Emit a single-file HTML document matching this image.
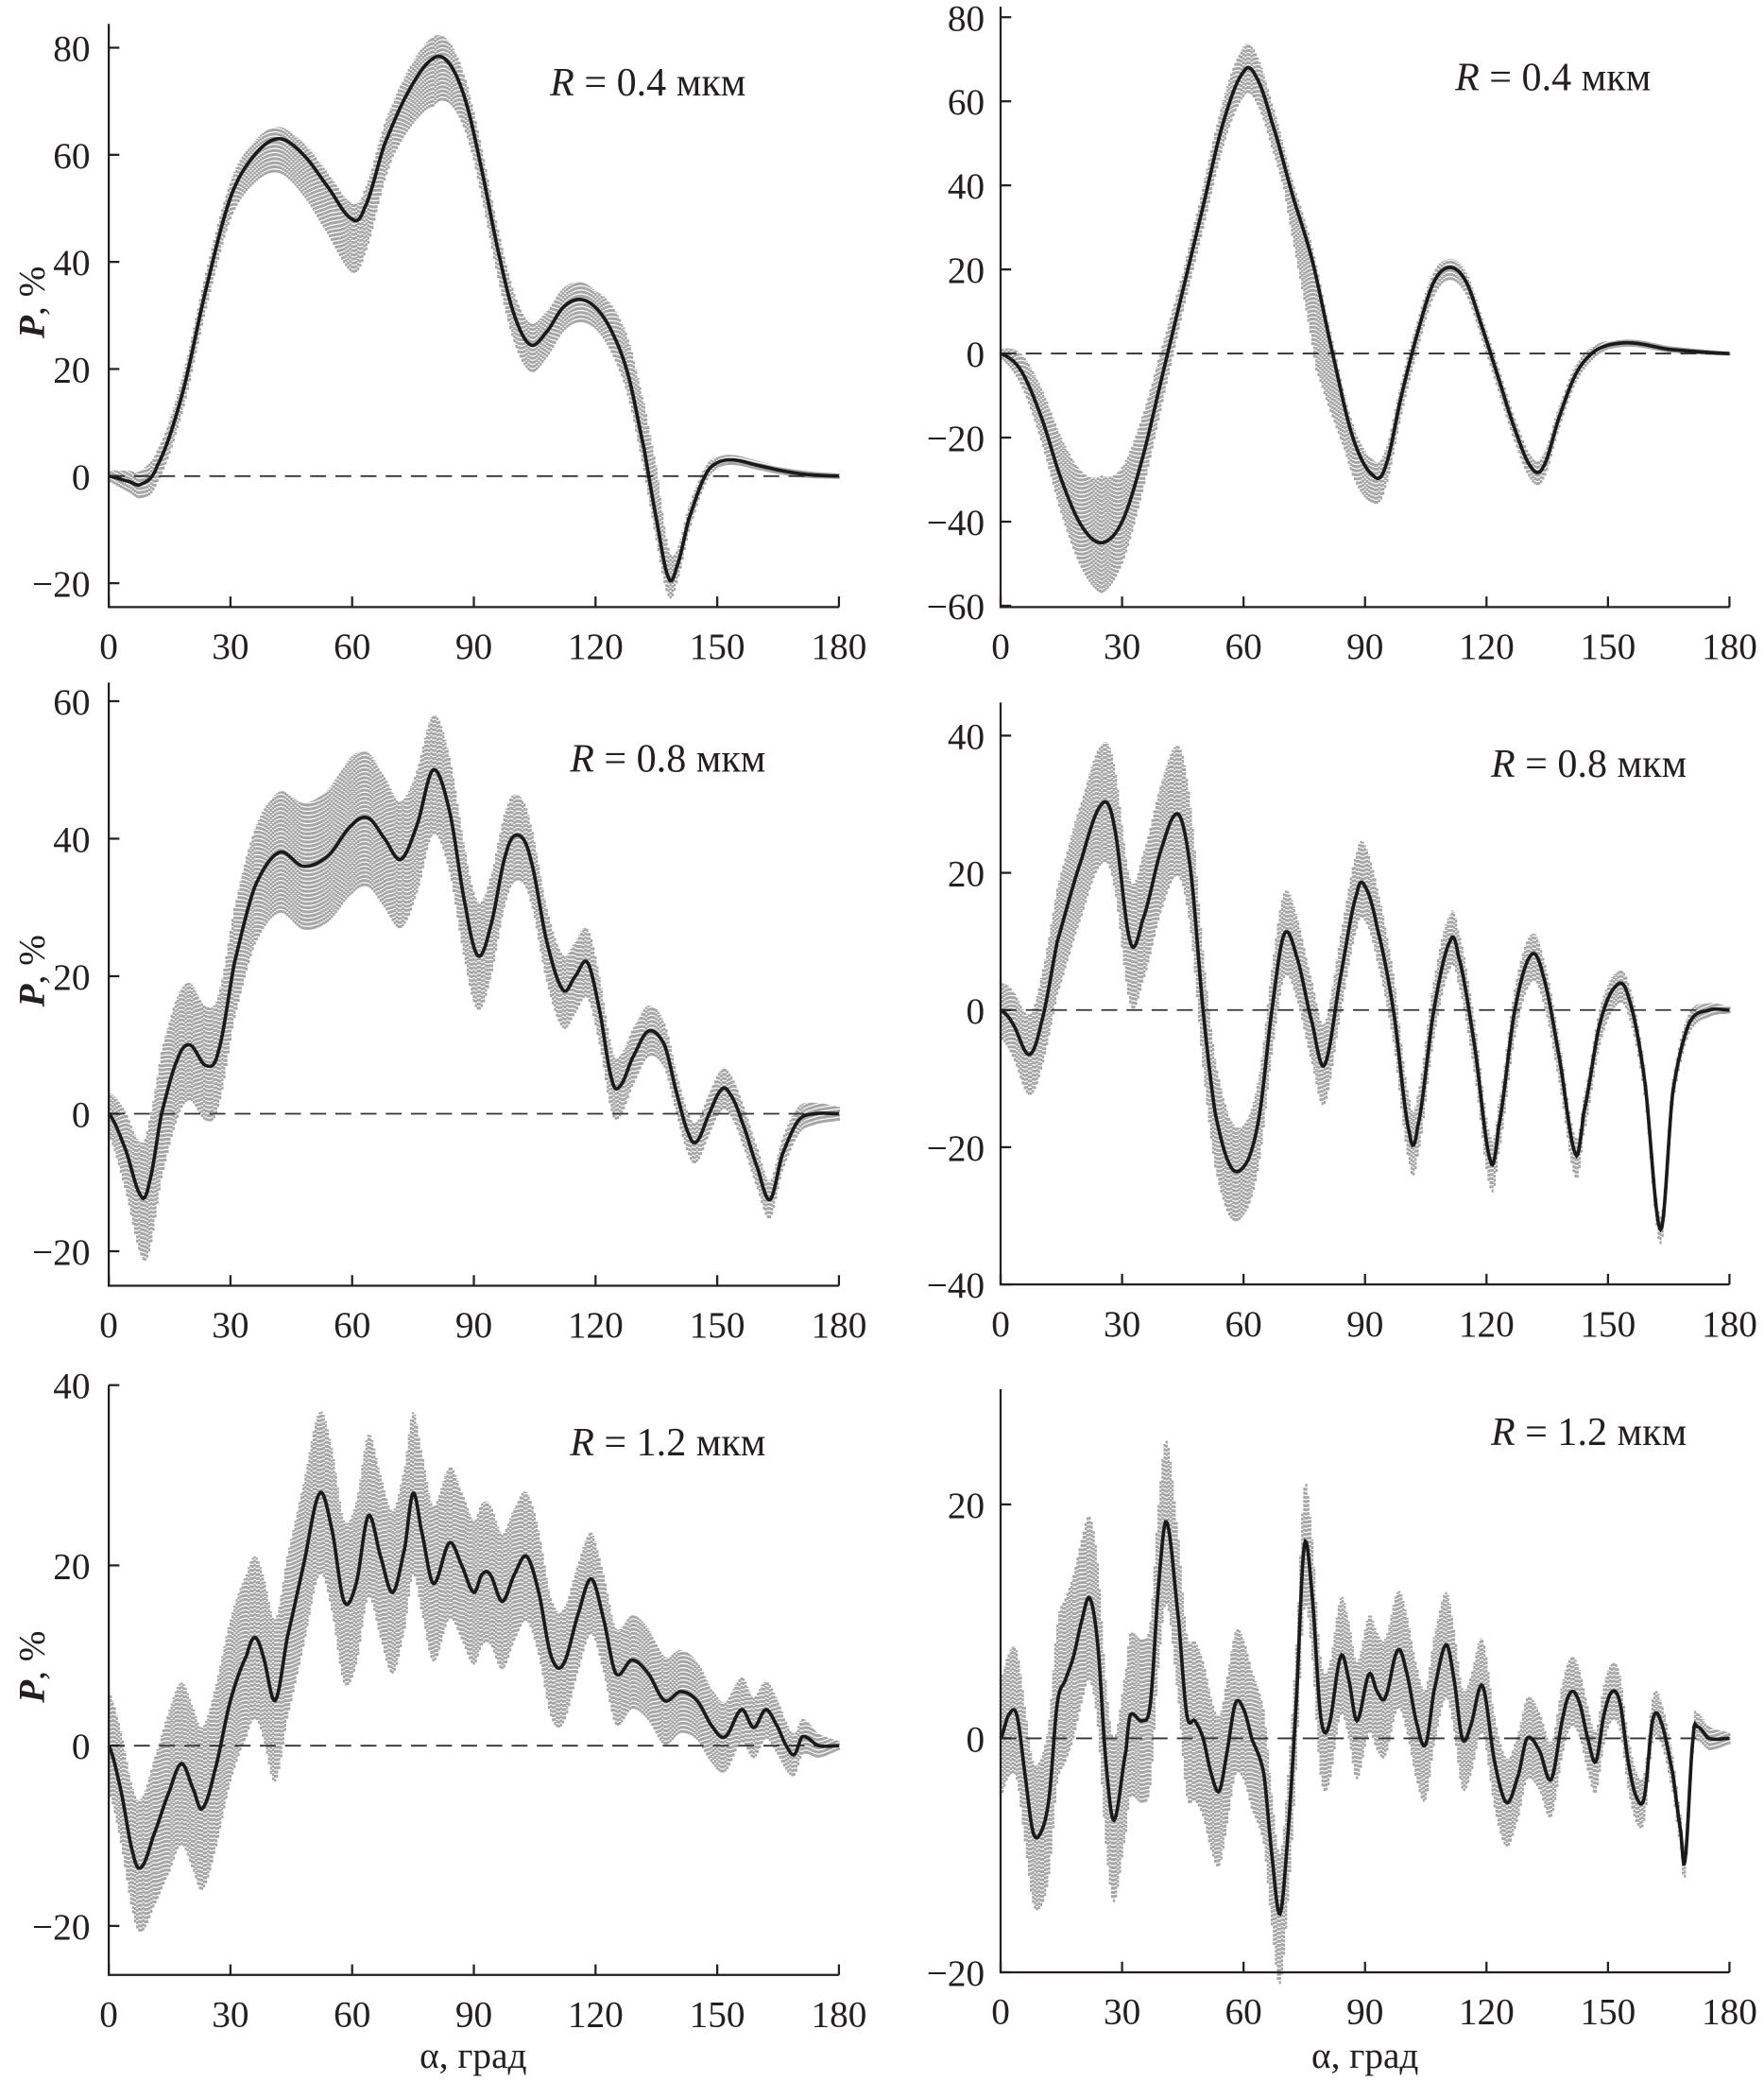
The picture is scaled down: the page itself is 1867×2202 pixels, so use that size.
<!DOCTYPE html>
<html><head><meta charset="utf-8"><style>
html,body{margin:0;padding:0;background:#fff}
svg{display:block}
text{font-family:"Liberation Serif","DejaVu Serif",serif;fill:#231f20}
</style></head><body>
<svg id="fig" width="1867" height="2202" viewBox="0 0 1331 1570" xmlns="http://www.w3.org/2000/svg"></svg>
<script>
// ---- data (alpha in degrees, P in %) ----
const l1Alpha=[0,5,8,12,18,24,30,36,42,48,54,60,63,68,74,80,84,88,92,96,100,104,108,112,116,120,124,128,132,135,138,140,143,147,150,154,160,166,172,180];
const l1P=[0,-1,-1.5,2,15,35,52,60,63,60,54,48,50,62,72,78,77,70,57,42,30,24.5,27,31.5,33,31.5,27,19,5,-8,-19,-17,-8,0,2.5,3,2,1,0.3,0];
const l1SpreadAlpha=[0,10,30,45,60,70,80,90,105,120,135,140,150,180];
const l1SpreadLo=[1,3,4,7,10,6,9,5,5,4,4,3,1,0.5];
const l1SpreadHi=[1,3,3,2,3,4,4,4,4,3,10,3,1,0.5];

const r1Alpha=[0,5,10,15,20,25,30,35,40,45,50,55,60,63,67,72,77,82,87,92,95,99,103,107,111,115,119,123,127,131,134,138,142,146,150,156,165,180];
const r1P=[0,-4,-15,-30,-41,-45,-40,-25,-5,15,35,55,67,66,55,38,22,0,-20,-29,-27,-10,5,17,20.5,17,6,-6,-18,-27,-27,-15,-5,0,2,2.5,1,0];
const r1SpreadAlpha=[0,15,25,35,45,60,70,78,85,95,110,135,150,180];
const r1SpreadLo=[1,8,12,8,5,6,6,22,10,5,3,3,1,0.5];
const r1SpreadHi=[1,10,16,10,4,6,4,3,3,4,2,3,1,0.5];

const l2Alpha=[0,4,8,10,13,17,20,24,27,31,36,42,48,54,60,64,68,72,76,80,84,88,91,94,98,101,104,108,112,115,118,121,124,126,129,133,137,140,143,145,148,151,153,156,160,163,166,170,174,180];
const l2P=[0,-5,-12,-10,0,8,10,7,9,22,33,38,36,37.5,42,43,40,37,42,50,44,30,23,27,38,40.5,37,25,18,20,22,15,5,4,8,12,10,3,-3,-4,0,3.5,3,-1,-8,-12.5,-6,-1,0,0];
const l2SpreadAlpha=[0,10,20,30,45,60,75,90,105,120,140,160,180];
const l2SpreadLo=[3,10,8,8,9,10,10,8,6,5,3,3,1];
const l2SpreadHi=[3,9,9,8,9,10,8,8,5,5,3,3,1];

const r2Alpha=[0,3,7,10,14,20,25,28,32,35,40,44,47,50,53,57,61,64,67,70,73,77,80,84,88,90,93,97,101,103,107,111,113,117,121,123,127,131,134,138,142,144,148,152,155,159,163,166,170,175,180];
const r2P=[0,-2,-6.5,-2,10,22,30,27,10,13,24,28.5,20,0,-15,-23,-22,-15,0,11,8,-2,-8,5,17,18,12,0,-18,-17,0,10,8,-5,-22,-17,0,8,5,-7,-21,-15,-2,3.5,2,-10,-32,-12,-2,0,0];
const r2SpreadAlpha=[0,15,30,45,60,75,90,110,130,150,165,180];
const r2SpreadLo=[4,8,9,9,7,6,5,4,4,3,2,0.5];
const r2SpreadHi=[4,8,9,10,6,6,6,4,3,2,2,0.5];

const l3Alpha=[0,3,6,8,11,15,18,21,23,26,30,34,36,38,41,44,48,52,55,58,61,64,67,70,73,75,77,80,84,87,90,92,94,97,100,103,106,109,112,116,119,122,125,129,133,137,141,145,149,152,156,159,162,165,167,169,171,175,180];
const l3P=[0,-5,-12,-13.5,-10,-5,-2,-5,-7,-3,5,10,12,10,5,12,20,28,24,16,18,25.5,21,17,22,28,24,18,22.5,20,17,19,19,16,19,21,17,10,9,15,18.5,14,8,9.5,8,5,6,5,2,1,4,2,4,2,0,-1,1,0,0];
const l3SpreadAlpha=[0,15,30,45,60,75,90,105,120,135,150,165,180];
const l3SpreadLo=[5,9,9,9,9,9,8,7,6,5,4,3,0.5];
const l3SpreadHi=[6,9,9,9,9,9,8,7,5,5,4,3,0.5];

const r3Alpha=[0,2,4,6,8,10,12,14,16,18,20,22,24,26,28,31,32,35,37,39,41,44,46,48,50,52,54,56,58,60,62,65,67,69,71,73,75,77,79,81,84,86,88,91,93,95,98,100,103,105,107,110,112,114,116,119,122,125,128,130,133,136,139,141,143,145,147,149,151,153,155,157,159,161,163,166,168,169,171,172,175,180];
const r3P=[0,2,2,-3,-8,-8,-5,3,5,7,10,12,8,-2,-7,-1,2,1.5,3,13,18.5,10,2,1.5,0,-3,-4.5,-1,3,2.5,0,-3,-10,-15,-8,3,16.5,12,2,1,7,5,1.5,5.5,4,3.5,7.5,6,1,-0.5,4,8,5,0,1,4.5,-2,-5.5,-3,0,-1,-3.5,2,4,3,0,-2,2,4,3,-2,-5,-5,1.5,1.5,-3,-8,-10.5,0,1,0,0];
const r3SpreadAlpha=[0,15,30,45,60,70,80,100,120,140,160,175,180];
const r3SpreadLo=[5,7,7,7,6,6,5,5,4,3,2,1,0.5];
const r3SpreadHi=[5,7,7,7,6,5,5,5,4,3,2,1,0.5];

const xTicks=[0,30,60,90,120,150,180];
const yTicksL1=[-20,0,20,40,60,80];
const yTicksR1=[-60,-40,-20,0,20,40,60,80];
const yTicksL2=[-20,0,20,40,60];
const yTicksR2=[-40,-20,0,20,40];
const yTicksL3=[-20,0,20,40];
const yTicksR3=[-20,0,20];
const labels=["R = 0.4 мкм","R = 0.4 мкм","R = 0.8 мкм","R = 0.8 мкм","R = 1.2 мкм","R = 1.2 мкм"];

// ---- layout (pixels in 1331x1570 viewBox) ----
const panels=[
 {id:'l1',a:l1Alpha,p:l1P,sa:l1SpreadAlpha,lo:l1SpreadLo,hi:l1SpreadHi,ticks:yTicksL1,x0:82,x1:633,yTop:18,yBot:458,ymin:-20,ymax:80,ya:440,yb:36,lab:0,lx:415,ly:72,xl:true},
 {id:'r1',a:r1Alpha,p:r1P,sa:r1SpreadAlpha,lo:r1SpreadLo,hi:r1SpreadHi,ticks:yTicksR1,x0:755,x1:1305,yTop:5,yBot:458,ymin:-60,ymax:80,ya:457,yb:13,lab:1,lx:1098,ly:68,xl:false},
 {id:'l2',a:l2Alpha,p:l2P,sa:l2SpreadAlpha,lo:l2SpreadLo,hi:l2SpreadHi,ticks:yTicksL2,x0:82,x1:633,yTop:515,yBot:970,ymin:-20,ymax:60,ya:944,yb:529,lab:2,lx:430,ly:582,xl:true},
 {id:'r2',a:r2Alpha,p:r2P,sa:r2SpreadAlpha,lo:r2SpreadLo,hi:r2SpreadHi,ticks:yTicksR2,x0:755,x1:1305,yTop:530,yBot:969,ymin:-40,ymax:40,ya:969,yb:555,lab:3,lx:1125,ly:586,xl:false},
 {id:'l3',a:l3Alpha,p:l3P,sa:l3SpreadAlpha,lo:l3SpreadLo,hi:l3SpreadHi,ticks:yTicksL3,x0:82,x1:633,yTop:1045,yBot:1490,ymin:-20,ymax:40,ya:1453,yb:1045,lab:4,lx:430,ly:1098,xl:true},
 {id:'r3',a:r3Alpha,p:r3P,sa:r3SpreadAlpha,lo:r3SpreadLo,hi:r3SpreadHi,ticks:yTicksR3,x0:755,x1:1305,yTop:1048,yBot:1488,ymin:-20,ymax:20,ya:1488,yb:1135,lab:5,lx:1125,ly:1090,xl:false}
];
const NS='http://www.w3.org/2000/svg';
const svg=document.getElementById('fig');
function mk(tag,attrs,parent){const e=document.createElementNS(NS,tag);for(const k in attrs)e.setAttribute(k,attrs[k]);(parent||svg).appendChild(e);return e;}
function interp(xs,ys,x){if(x<=xs[0])return ys[0];for(let i=1;i<xs.length;i++){if(x<=xs[i]){const t=(x-xs[i-1])/(xs[i]-xs[i-1]);return ys[i-1]+t*(ys[i]-ys[i-1]);}}return ys[ys.length-1];}
function cr(pts,x){
 const xs=pts.a,ys=pts.p;let i=1;while(i<xs.length-1&&x>xs[i])i++;
 const x1=xs[i-1],x2=xs[i];const t=(x-x1)/(x2-x1);
 const y0=ys[Math.max(i-2,0)],y1=ys[i-1],y2=ys[i],y3=ys[Math.min(i+1,ys.length-1)];
 const m1=(y2-y0)/2,m2=(y3-y1)/2;const t2=t*t,t3=t2*t;
 return (2*t3-3*t2+1)*y1+(t3-2*t2+t)*m1+(-2*t3+3*t2)*y2+(t3-t2)*m2;}
panels.forEach(pn=>{
 const g=mk('g',{});
 
 
 const X=a=>pn.x0+(pn.x1-pn.x0)*a/180;
 const Y=v=>pn.ya+(pn.yb-pn.ya)*(v-pn.ymin)/(pn.ymax-pn.ymin);
 const band=mk('g',{stroke:'#a4a4a4','stroke-width':'1.6','stroke-dasharray':'2.2 0.9'},g);
 
 
 for(let a=0;a<=180;a+=0.5){
  const c=cr(pn,a);const lo=interp(pn.sa,pn.lo,a),hi=interp(pn.sa,pn.hi,a);
  mk('line',{x1:X(a).toFixed(2),x2:X(a).toFixed(2),y1:Y(c-lo).toFixed(2),y2:Y(c+hi).toFixed(2)},band);
 }
 const z=mk('line',{x1:X(0),x2:X(180),y1:Y(0),y2:Y(0),stroke:'#333','stroke-width':'1.3','stroke-dasharray':'12 7'},g);
 
 
 let d='';for(let a=0;a<=180;a+=0.25){d+=(a===0?'M':'L')+X(a).toFixed(2)+','+Y(cr(pn,a)).toFixed(2);}
 const cv=mk('path',{d:d,fill:'none',stroke:'#1a1a1a','stroke-width':'2.6'},g);
 
 
 const ax=mk('path',{d:`M${pn.x0},${pn.yTop}V${pn.yBot}H${pn.x1}`,fill:'none',stroke:'#231f20','stroke-width':'1.6'},g);
 
 
 xTicks.forEach(t=>{
  mk('line',{x1:X(t),x2:X(t),y1:pn.yBot,y2:pn.yBot-8,stroke:'#231f20','stroke-width':'1.6'},g);
  const tx=mk('text',{x:X(t),y:pn.yBot+39,'text-anchor':'middle','font-size':'28'},g);
  tx.textContent=t;
  
  
 });
 pn.ticks.forEach(t=>{
  mk('line',{x1:pn.x0,x2:pn.x0+8,y1:Y(t),y2:Y(t),stroke:'#231f20','stroke-width':'1.6'},g);
  const tx=mk('text',{x:pn.x0-(pn.xl?14:12),y:Y(t)+10,'text-anchor':'end','font-size':'28'},g);
  tx.textContent=(t<0?'\u2212'+(-t):t);
  
  
 });
 const lb=mk('text',{x:pn.lx,y:pn.ly,'font-size':'30'},g);
 
 
 const parts=labels[pn.lab].split(' = ');
 const r=mk('tspan',{'font-style':'italic'},lb);r.textContent=parts[0];
 const rest=mk('tspan',{},lb);rest.textContent=' = '+parts[1];
 if(pn.xl){
  const yt=mk('text',{transform:`translate(${33},${(pn.yTop+pn.yBot)/2-10}) rotate(-90)`,'text-anchor':'middle','font-size':'28'},g);
  
  
  const p1=mk('tspan',{'font-style':'italic','font-weight':'bold'},yt);p1.textContent='P';
  const p2=mk('tspan',{},yt);p2.textContent=', %';
 }
});
['l','r'].forEach((s,i)=>{
 const t=mk('text',{x:i?1030:357,y:1560,'text-anchor':'middle','font-size':'28'});
 t.textContent='α, град';
 
 
});
</script>
</body></html>
